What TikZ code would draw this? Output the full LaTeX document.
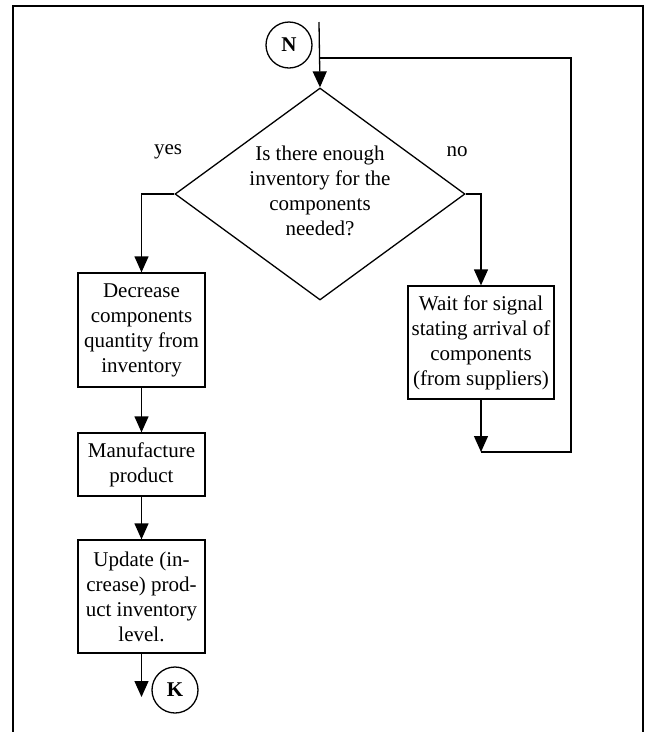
\documentclass[tikz,border=0pt]{standalone}
\usepackage{fontspec}
\setmainfont{Liberation Serif}
\usetikzlibrary{arrows.meta,shapes.geometric}
\begin{document}
\begin{tikzpicture}[x=1pt,y=-1pt,line width=1.3pt,
  every node/.style={font=\fontsize{21}{25}\selectfont},
  box/.style={draw,rectangle,align=center,inner sep=0pt},
  circ/.style={draw,circle,minimum size=46pt,inner sep=0pt,font=\fontsize{21}{25}\selectfont\bfseries},
  arr/.style={-{Triangle[length=16pt,width=14pt]}},
  frame/.style={line width=2.2pt}]
\useasboundingbox (0,0) rectangle (646,732);
% frame
\draw[frame] (13,732) -- (13,6) -- (643,6) -- (643,732);
% nodes
\node[circ] (N) at (289,45) {N};
\node[draw,diamond,minimum width=290pt,minimum height=212pt,inner sep=0pt] (d) at (320,194) {};
\node[align=center] (dtext) at (320,191) {Is there enough\\inventory for the\\components\\needed?};
\node (yes) at (168,152) {yes};
\node (no) at (457,152) {no};
\node[box,minimum width=127pt,minimum height=114pt] (dec) at (141.5,330) {Decrease\\components\\quantity from\\inventory};
\node[box,minimum width=127pt,minimum height=63pt] (man) at (141.5,464.5) {Manufacture\\product};
\node[box,minimum width=127pt,minimum height=113pt] (upd) at (141.5,596.5) {Update (in-\\crease) prod-\\uct inventory\\level.};
\node[box,minimum width=146pt,minimum height=113pt] (wait) at (481,342.5) {Wait for signal\\stating arrival of\\components\\(from suppliers)};
\node[circ] (K) at (175,690) {K};
% coordinates
\coordinate (ntop) at (319,22);
\coordinate (loopj) at (319,58);
\coordinate (wb) at (481,452);
\coordinate (wr) at (571,452);
\coordinate (tr) at (571,58);
\coordinate (kend) at (141.5,697);
% connectors
\draw[arr] (ntop) -- (d.north);
\draw (wb) -- (wr) -- (tr) -- (loopj);
\draw[arr] (d.west) -| (dec.north);
\draw[arr] (d.east) -| (wait.north);
\draw[arr] (wait.south) -- (wb);
\draw[arr] (dec.south) -- (man.north);
\draw[arr] (man.south) -- (upd.north);
\draw[arr] (upd.south) -- (kend);
\end{tikzpicture}
\end{document}
